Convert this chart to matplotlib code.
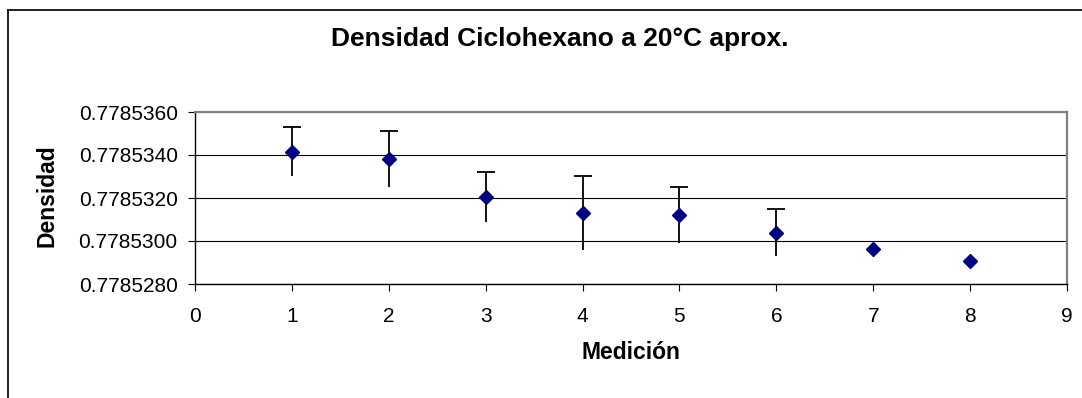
#! /usr/bin/env python3

import matplotlib
matplotlib.use('Agg')
import matplotlib.pyplot as plt
from matplotlib.lines import Line2D
from matplotlib.ticker import FormatStrFormatter, MultipleLocator

# mediciones de densidad del ciclohexano
medicion = [1, 2, 3, 4, 5, 6, 7, 8]
densidad = [0.77853416, 0.77853380, 0.77853204, 0.77853131,
            0.77853120, 0.77853038, 0.77852964, 0.77852908]
error = [0.00000112, 0.00000131, 0.00000117, 0.00000172,
         0.00000130, 0.00000109, 0.0, 0.0]

titulo = 'Densidad Ciclohexano a 20°C aprox.'


def plot_data():
    plt.rcParams['font.family'] = ['Liberation Sans', 'DejaVu Sans']
    fig = plt.figure(figsize=(10.82, 3.98), dpi=100)
    ax = fig.add_axes([195 / 1082, 1 - 284 / 398, 872 / 1082, 172 / 398])

    # barras de error solo donde hay desviacion (sin tope inferior)
    con_error = [i for i, e in enumerate(error) if e > 0]
    xs = [medicion[i] for i in con_error]
    ys = [densidad[i] for i in con_error]
    es = [error[i] for i in con_error]
    arriba = [y + e for y, e in zip(ys, es)]
    abajo = [y - e for y, e in zip(ys, es)]
    ax.vlines(xs, abajo, arriba, colors='black', linewidth=1.3, zorder=3)
    ax.plot(xs, arriba, linestyle='none', marker='_', markersize=12.5,
            markeredgewidth=1.3, color='black', zorder=3)

    ax.plot(medicion, densidad, linestyle='none', marker='D', markersize=7,
            color='#000080', zorder=4)

    ax.set_xlim(0, 9)
    ax.set_ylim(0.778528, 0.778536)
    ax.xaxis.set_major_locator(MultipleLocator(1))
    ax.yaxis.set_major_locator(MultipleLocator(0.000002))
    ax.yaxis.set_major_formatter(FormatStrFormatter('%.7f'))

    ax.grid(axis='y', color='black', linewidth=0.8)
    ax.set_axisbelow(True)
    ax.tick_params(axis='x', direction='out', length=4.7, width=0.8,
                   pad=12, labelsize=15)
    ax.tick_params(axis='y', direction='out', length=5, width=0.8,
                   pad=7.5, labelsize=15)

    for lado in ['left', 'bottom']:
        ax.spines[lado].set_color('black')
        ax.spines[lado].set_linewidth(1.0)
    for lado in ['top', 'right']:
        ax.spines[lado].set_color('#808080')
        ax.spines[lado].set_linewidth(1.6)

    fig.text(560 / 1082, 1 - 46 / 398, titulo, ha='center', va='baseline',
             fontsize=19, fontweight='bold')
    fig.text(631 / 1082, 1 - 359 / 398, 'Medición', ha='center', va='baseline',
             fontsize=16.5, fontweight='bold')
    fig.text(47 / 1082, 1 - 196 / 398, 'Densidad', ha='center', va='center',
             rotation=90, fontsize=16.5, fontweight='bold')

    # borde del area del grafico
    fig.add_artist(Line2D([8 / 1082, 1.0], [1 - 10 / 398, 1 - 10 / 398],
                          color='#202020', linewidth=1.4))
    fig.add_artist(Line2D([8 / 1082, 8 / 1082], [0.0, 1 - 10 / 398],
                          color='#202020', linewidth=1.4))

    fig.savefig('out.png', dpi=100)


if __name__ == "__main__":
    plot_data()
